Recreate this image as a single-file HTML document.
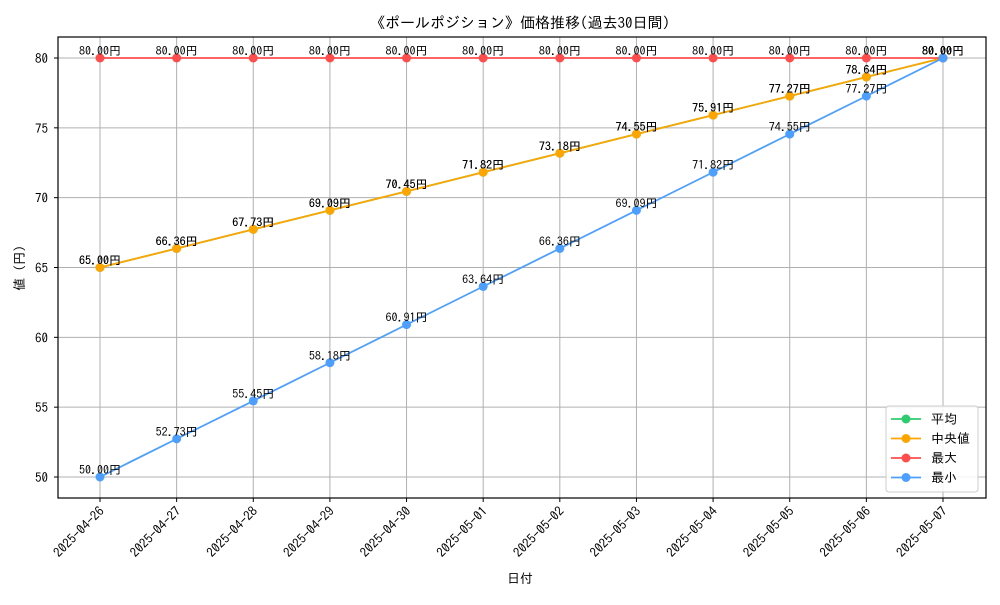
<!DOCTYPE html>
<html><head><meta charset="utf-8"><style>
body{margin:0;background:#fff}
svg text{font-family:"IPAGothic","Liberation Sans","Noto Sans CJK JP",sans-serif}
</style></head><body>
<svg id="chart" width="1000" height="600" xmlns="http://www.w3.org/2000/svg">
<rect width="1000" height="600" fill="#fff"/>
<text x="520" y="28" text-anchor="middle" font-size="15">《ポールポジション》価格推移(過去30日間)</text>
<g id="grid"></g>
<g id="axes"></g>
<g id="series"></g>
<rect x="58" y="37" width="928" height="461" fill="none" stroke="#000" stroke-width="1.2"/>
<text x="520" y="583" text-anchor="middle" font-size="13">日付</text>
<text transform="translate(24,268) rotate(-90)" text-anchor="middle" font-size="13">値 (円)</text>
<g id="legend">
<rect x="886" y="406" width="92" height="86" fill="#fff" fill-opacity="0.85" stroke="#ccc" rx="3"/>
</g>
</svg>
<script>
const dates=["2025-04-26","2025-04-27","2025-04-28","2025-04-29","2025-04-30","2025-05-01","2025-05-02","2025-05-03","2025-05-04","2025-05-05","2025-05-06","2025-05-07"];
const avgValues=[65.00,66.36,67.73,69.09,70.45,71.82,73.18,74.55,75.91,77.27,78.64,80.00];
const medianValues=[65.00,66.36,67.73,69.09,70.45,71.82,73.18,74.55,75.91,77.27,78.64,80.00];
const maxValues=[80,80,80,80,80,80,80,80,80,80,80,80];
const minValues=[50.00,52.73,55.45,58.18,60.91,63.64,66.36,69.09,71.82,74.55,77.27,80.00];
const yTicks=[50,55,60,65,70,75,80];
const seriesNames=["平均","中央値","最大","最小"];
const seriesColors=["#2ecc71","#ffa500","#ff4d4d","#4d9fff"];

const NS="http://www.w3.org/2000/svg";
const xS=i=>100+i*(943-100)/(dates.length-1);
const yS=v=>477+(v-50)*(58-477)/30;
function mk(tag,attrs,parent,txt){const e=document.createElementNS(NS,tag);for(const k in attrs)e.setAttribute(k,attrs[k]);if(txt!==undefined)e.textContent=txt;parent.appendChild(e);return e;}
const grid=document.getElementById('grid'),axes=document.getElementById('axes'),ser=document.getElementById('series');
dates.forEach((d,i)=>{
  const x=xS(i);
  const g=mk('line',{x1:x,x2:x,y1:37,y2:498,stroke:'#b0b0b0','stroke-width':1},grid);
  
  
  mk('line',{x1:x,x2:x,y1:498,y2:502,stroke:'#000'},axes);
  const t=mk('text',{transform:`translate(${x+5},${512}) rotate(-45)`,'text-anchor':'end','font-size':13},axes,d);
  
  
});
yTicks.forEach(v=>{
  const y=yS(v);
  const g=mk('line',{x1:58,x2:986,y1:y,y2:y,stroke:'#b0b0b0','stroke-width':1},grid);
  
  
  mk('line',{x1:54,x2:58,y1:y,y2:y,stroke:'#000'},axes);
  const t=mk('text',{x:48,y:y+5,'text-anchor':'end','font-size':13},axes,String(v));
  
  
});
const all=[avgValues,medianValues,maxValues,minValues];
all.forEach((vals,s)=>{
  const g=mk('g',{},ser);
  
  
  mk('polyline',{points:vals.map((v,i)=>xS(i)+','+yS(v)).join(' '),fill:'none',stroke:seriesColors[s],'stroke-width':1.8},g);
  vals.forEach((v,i)=>{
    const c=mk('circle',{cx:xS(i),cy:yS(v),r:4.5,fill:seriesColors[s]},g);
    
    
    const t=mk('text',{x:xS(i),y:yS(v)-3,'text-anchor':'middle','font-size':12},g,v.toFixed(2)+'円');
    
    
  });
});
const lg=document.getElementById('legend');
seriesNames.forEach((n,k)=>{
  const y=419+k*19.5;
  const e=mk('g',{},lg);
  
  
  mk('line',{x1:891,x2:921,y1:y,y2:y,stroke:seriesColors[k],'stroke-width':1.8},e);
  mk('circle',{cx:906,cy:y,r:4.5,fill:seriesColors[k]},e);
  mk('text',{x:931,y:y+4.5,'font-size':13},e,n);
});
</script>
</body></html>
